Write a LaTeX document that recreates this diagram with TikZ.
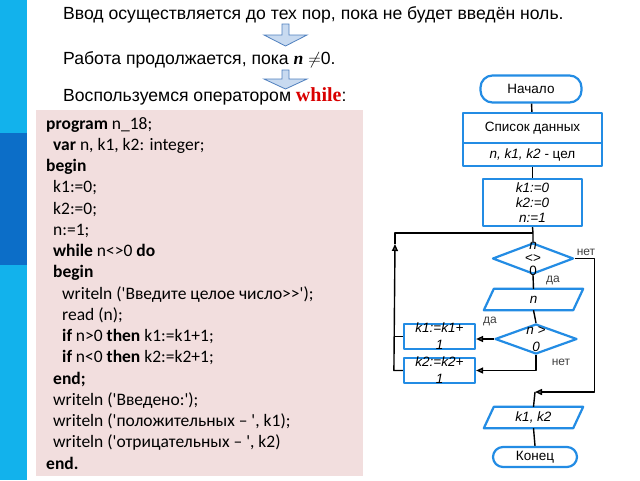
\documentclass[tikz,border=0pt]{standalone}
\usepackage{fontspec}
\setmainfont{Liberation Sans}
\newfontfamily\codefont{Carlito}
\newfontfamily\romfont{Liberation Serif}
\usetikzlibrary{shapes.geometric,arrows.meta}
\definecolor{fblue}{RGB}{35,140,228}
\definecolor{barcyan}{RGB}{18,178,236}
\definecolor{bardark}{RGB}{12,110,200}
\definecolor{codepink}{RGB}{242,222,222}
\definecolor{arrfill}{RGB}{200,218,240}
\definecolor{arrline}{RGB}{80,128,190}
\tikzset{
  blk/.style={draw=fblue,line width=2.2pt,fill=white,inner sep=0pt},
  term/.style={blk,rounded corners=12pt},
  rhomb/.style={blk,diamond},
  ftxt/.style={font=\fontsize{13.5}{15}\selectfont,inner sep=0pt,align=center},
  itxt/.style={ftxt,font=\itshape\fontsize{13.5}{15}\selectfont},
  lbl/.style={font=\fontsize{12}{13}\selectfont,inner sep=0pt,text=black!75},
  head/.style={anchor=base west,inner sep=0pt,font=\fontsize{17.6}{20}\selectfont},
  con/.style={line width=1.4pt},
  tip/.style={-{Triangle[length=7pt,width=6pt,fill=gray]}},
  barrow/.style={draw=arrline,fill=arrfill,line width=0.8pt,line join=miter}
}
\begin{document}
\begin{tikzpicture}[x=1pt,y=-1pt,line join=round]
\useasboundingbox (0,0) rectangle (640,480);
\fill[white] (0,0) rectangle (640,480);
% left bar
\fill[barcyan] (0,0) rectangle (27,480);
\fill[bardark] (0,133) rectangle (27,265);
% heading lines
\node[head] (t1) at (63,19) {Ввод осуществляется до тех пор, пока не будет введён ноль.};
\node[head] (t2) at (63,64) {Работа продолжается, пока {\romfont\bfseries\itshape n} $\neq$0.};
\node[head] (t3) at (63,101) {Воспользуемся оператором {\romfont\bfseries\fontsize{20}{20}\selectfont\color{red!85!black}while}:};
\draw[barrow] (282,24) -- (289,24) -- (289,35) -- (307,35) -- (285.5,46) -- (264,35) -- (282,35) -- cycle;
\draw[barrow] (282,70) -- (289,70) -- (289,79) -- (307,79) -- (285.5,89) -- (264,79) -- (282,79) -- cycle;
% program text
\fill[codepink] (36,110) rectangle (363,476);
\node[anchor=north west,inner sep=0pt,align=left,font=\codefont\fontsize{17.5}{21.25}\selectfont] (code) at (46,117) {%
\textbf{program} n\_18;\\
\hspace*{7pt}\textbf{var} n, k1, k2: integer;\\
\textbf{begin}\\
\hspace*{7pt}k1:=0;\\
\hspace*{7pt}k2:=0;\\
\hspace*{7pt}n:=1;\\
\hspace*{7pt}\textbf{while} n<>0 \textbf{do}\\
\hspace*{7pt}\textbf{begin}\\
\hspace*{16pt}writeln ('Введите целое число>>');\\
\hspace*{16pt}read (n);\\
\hspace*{16pt}\textbf{if} n>0 \textbf{then} k1:=k1+1;\\
\hspace*{16pt}\textbf{if} n<0 \textbf{then} k2:=k2+1;\\
\hspace*{7pt}\textbf{end;}\\
\hspace*{7pt}writeln ('Введено:');\\
\hspace*{7pt}writeln ('положительных – ', k1);\\
\hspace*{7pt}writeln ('отрицательных – ', k2)\\
\textbf{end.}};
% flowchart
\node[term,minimum width=101,minimum height=27,ftxt] (start) at (531,89) {Начало};
\node[blk,minimum width=139,minimum height=30,ftxt] (data) at (532.5,128) {Список данных};
\node[blk,minimum width=139,minimum height=23,ftxt] (vars) at (532.5,154.5) {\itshape n, k1, k2 \upshape - цел};
\node[blk,minimum width=99,minimum height=47] (init) at (532.5,202.5) {};
\node[itxt] (inittx) at (init) {k1:=0\\k2:=0\\n:=1};
\node[rhomb,minimum width=81,minimum height=31] (cond) at (533,258.5) {};
\node[ftxt] (condtx) at (cond) {\itshape n\\[-2pt]<>\\[-2pt]0};
\node[minimum width=89,minimum height=21,inner sep=0pt] (inp) at (533.5,299.5) {};
\draw[blk] ([xshift=-5pt]inp.south west) -- ([xshift=5pt]inp.north west) -- ([xshift=5pt]inp.north east) -- ([xshift=-5pt]inp.south east) -- cycle;
\node[itxt] (inptx) at (inp) {n};
\node[rhomb,minimum width=82,minimum height=30] (sign) at (536,339) {};
\node[itxt] (signtx) at (sign) {n >\\[2pt]0};
\node[blk,minimum width=71,minimum height=25] (inc1) at (439.5,336.5) {};
\node[itxt] (inc1tx) at (inc1) {k1:=k1+\\[2pt]1};
\node[blk,minimum width=71,minimum height=25] (inc2) at (439.5,370.5) {};
\node[itxt] (inc2tx) at (inc2) {k2:=k2+\\[2pt]1};
\node[minimum width=89,minimum height=21,inner sep=0pt] (out) at (533.5,417.5) {};
\draw[blk] ([xshift=-5pt]out.south west) -- ([xshift=5pt]out.north west) -- ([xshift=5pt]out.north east) -- ([xshift=-5pt]out.south east) -- cycle;
\node[itxt] (outtx) at (out) {k1, k2};
\node[term,minimum width=84,minimum height=20,rounded corners=10pt,ftxt] (stop) at (535,457) {Конец};
\coordinate (jn) at (533,233);
\coordinate (mrg) at (535,392);
\coordinate (up) at (395,244);
% connectors
\draw[con] (start) -- (data);
\draw[con] (vars) -- (init);
\draw[con] (init.south) -- (jn) -- (cond.north);
\draw[con] (cond.south) -- (inp.north);
\draw[con] (inp.south) -- (sign.north);
\draw[con,tip] (sign.west) -- (sign.west -| inc1.east);
\draw[con,tip] (sign.south) |- (inc2.east);
\draw[con] (inc1.west) -- ++(-9,0);
\draw[con,tip] (inc2.west) -- ++(-9,0) -- (up);
\draw[con] (up) |- (jn);
\draw[con,tip] (cond.east) -- ++(20,0) |- (mrg);
\draw[con] (mrg) -- (out.north);
\draw[con] (out.south) -- (stop.north);
\node[lbl] (no1) at (586,252) {нет};
\node[lbl] (yes1) at (553,280) {да};
\node[lbl] (yes2) at (490,321) {да};
\node[lbl] (no2) at (561,362) {нет};
\end{tikzpicture}
\end{document}
